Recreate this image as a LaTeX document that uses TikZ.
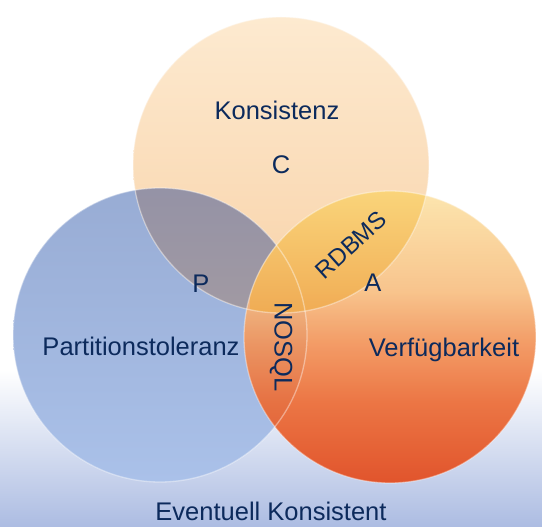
\documentclass[tikz,border=0pt]{standalone}
\usepackage{fontspec}
\setmainfont{Liberation Sans}

\definecolor{ink}{RGB}{12,42,92}
\definecolor{bgblue}{RGB}{172,188,226}
\definecolor{blueTop}{RGB}{152,172,212}
\definecolor{blueBot}{RGB}{170,193,233}
\definecolor{peachTop}{RGB}{253,234,208}
\definecolor{peachBot}{RGB}{248,210,168}
\definecolor{mauveTop}{RGB}{148,146,166}
\definecolor{mauveBot}{RGB}{162,154,162}
\definecolor{lensTop}{RGB}{250,212,120}
\definecolor{lensBot}{RGB}{240,170,80}
\definecolor{availA}{RGB}{228,74,28}
\definecolor{availB}{RGB}{236,108,54}
\definecolor{availC}{RGB}{242,148,90}
\definecolor{availD}{RGB}{248,192,132}
\definecolor{availE}{RGB}{252,228,168}

% yellow-to-red fill of the availability circle
\pgfdeclareverticalshading{availshade}{100bp}{%
  color(0bp)=(availA); color(25bp)=(availA); color(39bp)=(availB);
  color(49bp)=(availC); color(58bp)=(availD); color(75bp)=(availE);
  color(100bp)=(availE)}

\begin{document}
\begin{tikzpicture}[x=1pt,y=-1pt,
  lbl/.style={text=ink,font=\fontsize{25.5}{30}\selectfont,inner sep=0pt},
  rim/.style={draw=white,draw opacity=0.4,line width=1.3pt}]
\useasboundingbox (0,0) rectangle (542,527);

% background
\fill[white] (0,0) rectangle (542,527);
\shade[top color=white,bottom color=bgblue] (0,370) rectangle (542,527);

% circle centres
\coordinate (cT) at (281,165);
\coordinate (cL) at (160,335);
\coordinate (cR) at (390,337);

% partition tolerance
\shade[top color=blueTop,bottom color=blueBot] (cL) circle[radius=147pt];
% consistency
\shade[top color=peachTop,bottom color=peachBot] (cT) circle[radius=148pt];
% consistency and partition tolerance
\begin{scope}
  \clip (cL) circle[radius=147pt];
  \clip (cT) circle[radius=148pt];
  \shade[top color=mauveTop,bottom color=mauveBot] (120,180) rectangle (310,320);
\end{scope}
% availability
\shade[shading=availshade,opacity=0.92] (cR) circle[radius=146pt];
% consistency and availability
\begin{scope}
  \clip (cR) circle[radius=146pt];
  \clip (cT) circle[radius=148pt];
  \shade[top color=lensTop,bottom color=lensBot,opacity=0.92] (250,188) rectangle (440,318);
\end{scope}

% soft rims
\draw[rim] (cL) circle[radius=147pt];
\draw[rim] (cT) circle[radius=148pt];
\draw[rim] (cR) circle[radius=146pt];

% labels
\node[lbl,anchor=base] (kons) at (277,120) {Konsistenz};
\node[lbl,anchor=base] (cLbl) at (281,174) {C};
\node[lbl,anchor=base] (pLbl) at (201,293) {P};
\node[lbl,anchor=base] (aLbl) at (373,291) {A};
\node[lbl,anchor=base] (part) at (141,355) {Partitionstoleranz};
\node[lbl,anchor=base] (verf) at (444,356) {Verfügbarkeit};
\node[lbl,rotate=42,font=\fontsize{24}{28}\selectfont] (rdbms) at (351,245) {RDBMS};
\node[lbl,rotate=-90] (nosql) at (281,347) {NOSQL};
\node[lbl,anchor=base] (event) at (271,520) {Eventuell Konsistent};
\end{tikzpicture}
\end{document}
